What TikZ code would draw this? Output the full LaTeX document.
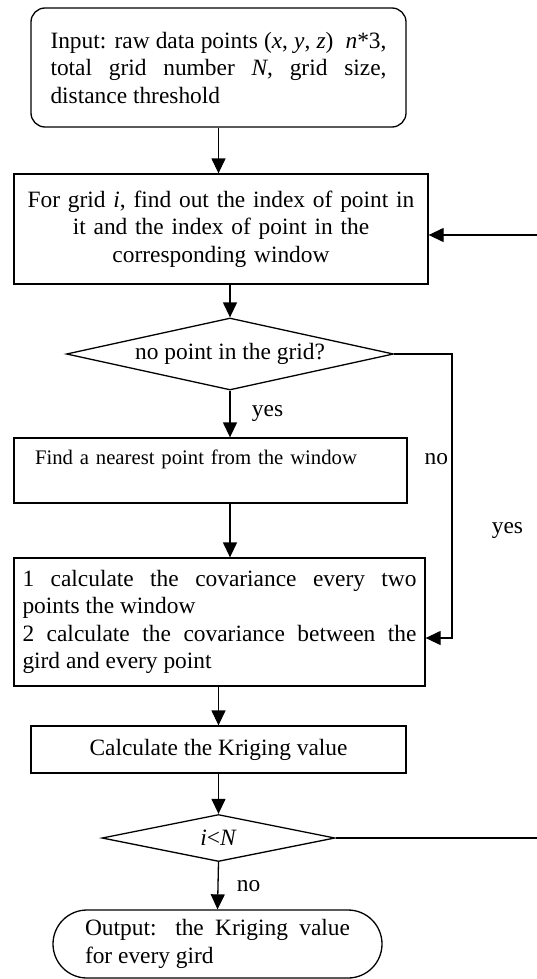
\documentclass[tikz,border=0pt]{standalone}
\usepackage{fontspec}
\setmainfont{Liberation Serif}
\usetikzlibrary{arrows.meta,shapes.geometric}

\begin{document}
\begin{tikzpicture}[x=1pt,y=-1pt,line width=1.3pt,
    font=\fontsize{23.4pt}{27.5pt}\selectfont,
    procbox/.style={draw,rectangle,inner ysep=0pt},
    decbox/.style={draw,diamond,inner sep=0pt},
    arr/.style={-{Triangle[length=15pt,width=14pt]}}]
  \useasboundingbox (0,0) rectangle (537,979);
  \node [procbox,rounded corners=14pt,minimum height=119pt,text width=336pt,inner xsep=19.5pt,align=justify] (input) at (218.5,67.5) {Input: raw data points (\textit{x}, \textit{y}, \textit{z})~~\textit{n}*3,\linebreak total grid number \textit{N}, grid size,\linebreak distance threshold};
  \node [procbox,minimum height=110pt,text width=394pt,inner xsep=10pt,align=center] (grid) at (221,229) {For grid \textit{i}, find out the index of point in\\ it and the index of point in the\\ corresponding window};
  \node [decbox,aspect=4.5,minimum width=327pt,minimum height=72pt] (empty) at (230,354) {no point in the grid?};
  \node [procbox,minimum height=65pt,text width=351pt,inner xsep=21pt,align=left,font=\fontsize{20.7pt}{27.5pt}\selectfont] (nearest) at (210.5,470.5) {Find a nearest point from the window\\ \mbox{}};
  \node [procbox,minimum height=128pt,text width=394pt,inner xsep=8.5pt,align=justify] (cov) at (219.5,622) {1 calculate the covariance every two\linebreak points the window\\ 2 calculate the covariance between the\linebreak gird and every point};
  \node [procbox,minimum width=375pt,minimum height=47pt] (krig) at (218.5,749.5) {Calculate the Kriging value};
  \node [decbox,aspect=5,minimum width=233pt,minimum height=47pt] (more) at (218.5,838) {\textit{i}<\textit{N}};
  \node [procbox,rounded corners=34pt,minimum height=68pt,text width=265pt,inner xsep=32pt,align=justify] (output) at (217.5,944) {Output: the Kriging value\linebreak for every gird};

  % main flow
  \draw [arr] (input.south) -- (input.south |- grid.north);
  \draw [arr] (grid.south -| empty.north) -- (empty.north);
  \draw [arr] (empty.south) -- node [right=18pt] {yes} (empty.south |- nearest.north);
  \draw [arr] (nearest.south -| empty.south) -- (cov.north -| empty.south);
  \draw [arr] (cov.south -| krig.north) -- (krig.north);
  \draw [arr] (krig.south) -- (more.north);
  \draw [arr] (more.south) -- node [right=15pt] {no} (output.north);

  % side branches
  \coordinate (nobend) at (452,354);
  \coordinate (noin) at ([yshift=-16pt]cov.east);
  \draw [arr] (empty.east) -- (nobend) -- node [pos=0.37,left=0pt] {no} (nobend |- noin) -- (noin);
  \coordinate (loopx) at (545,0);
  \coordinate (gridin) at ([yshift=-6pt]grid.east);
  \draw [arr] (more.east) -- (more.east -| loopx) -- node [pos=0.51,left=18pt] {yes} (loopx |- gridin) -- (gridin);
\end{tikzpicture}
\end{document}
